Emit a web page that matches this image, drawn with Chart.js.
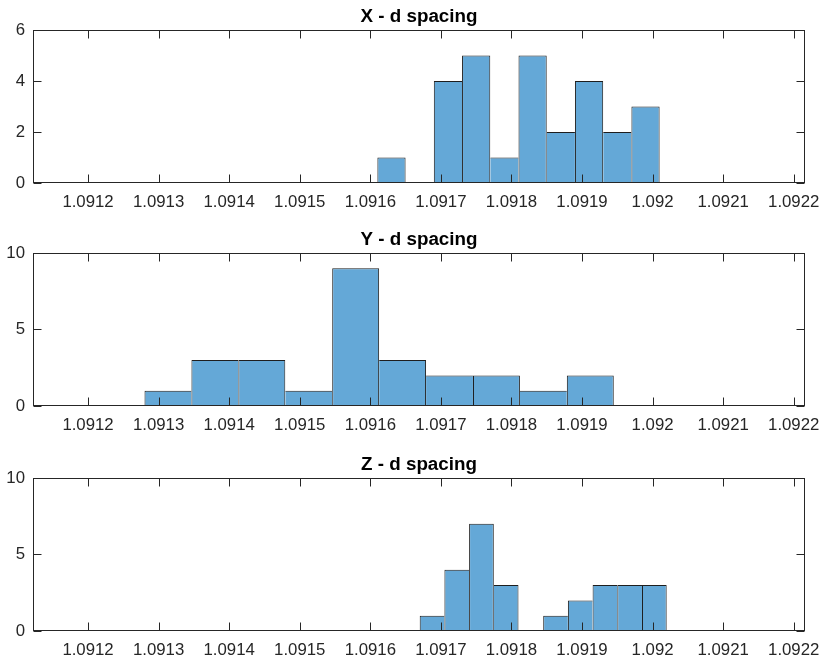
<!DOCTYPE html>
<html>
<head>
<meta charset="utf-8">
<title>d spacing histograms</title>
<script src="https://cdn.jsdelivr.net/npm/chart.js@4/dist/chart.umd.min.js"></script>
<style>
    html, body { margin: 0; padding: 0; background: #ffffff; }
    #wrap { position: relative; width: 820px; height: 661px; overflow: hidden; }
    #wrap canvas { position: absolute; left: 0; }
</style>
</head>
<body>
<div id="wrap">
    <canvas id="x-spacing" width="820" height="213" style="top:0px"></canvas>
    <canvas id="y-spacing" width="820" height="213" style="top:223px"></canvas>
    <canvas id="z-spacing" width="820" height="213" style="top:448px"></canvas>
</div>
<script>
'use strict';

//TICK LABELS SHARED BY ALL THREE PLOTS
let spacingTicks = ['1.0912', '1.0913', '1.0914', '1.0915', '1.0916', '1.0917',
                    '1.0918', '1.0919', '1.092', '1.0921', '1.0922'];
let spacingMin = 1.091122;
let spacingMax = 1.092216;

//X - BIN EDGES AND COUNTS
let xEdges = [1.09161, 1.09165, 1.09169, 1.09173, 1.09177, 1.09181,
              1.09185, 1.09189, 1.09193, 1.09197, 1.09201];
let xCounts = [1, 0, 4, 5, 1, 5, 2, 4, 2, 3];
let xCountTicks = [0, 2, 4, 6];

//Y - BIN EDGES AND COUNTS
let yEdges = [1.09128, 1.0913465, 1.091413, 1.0914795, 1.091546, 1.0916125,
              1.091679, 1.0917455, 1.091812, 1.0918785, 1.091945];
let yCounts = [1, 3, 3, 1, 9, 3, 2, 2, 1, 2];
let yCountTicks = [0, 5, 10];

//Z - BIN EDGES AND COUNTS
let zEdges = [1.09167, 1.091705, 1.09174, 1.091775, 1.09181, 1.091845,
              1.09188, 1.091915, 1.09195, 1.091985, 1.09202];
let zCounts = [1, 4, 7, 3, 0, 1, 2, 3, 3, 3];
let zCountTicks = [0, 5, 10];

let axisColor = '#262626';
let fontFamily = '"Liberation Sans", Arial, Helvetica, sans-serif';

// box round the axes with ticks pointing inwards on all four sides
let boxPlugin = {
    id: 'matlabBox',
    afterDraw: function (chart) {
        let ctx = chart.ctx;
        let a = chart.chartArea;
        let sx = chart.scales.x;
        let sy = chart.scales.y;
        let left = Math.round(a.left) + 0.5;
        let right = Math.round(a.right) - 0.5;
        let top = Math.round(a.top) + 0.5;
        let bottom = Math.round(a.bottom) - 0.5;
        let len = 8;

        ctx.save();
        ctx.strokeStyle = axisColor;
        ctx.lineWidth = 1;
        ctx.beginPath();
        sx.ticks.forEach(function (t) {
            let px = Math.round(sx.getPixelForValue(t.value)) + 0.5;
            ctx.moveTo(px, bottom);
            ctx.lineTo(px, bottom - len);
            ctx.moveTo(px, top);
            ctx.lineTo(px, top + len);
        });
        sy.ticks.forEach(function (t) {
            let py = Math.round(sy.getPixelForValue(t.value)) + 0.5;
            ctx.moveTo(left, py);
            ctx.lineTo(left + len, py);
            ctx.moveTo(right, py);
            ctx.lineTo(right - len, py);
        });
        ctx.stroke();
        ctx.strokeRect(left, top, right - left, bottom - top);
        ctx.restore();
    }
};

// shared edges are drawn once, by the taller of the two bars
function edgeWidths(c) {
    let d = c.dataset.data;
    let i = c.dataIndex;
    let h = d[i].y;
    let prev = i > 0 ? d[i - 1].y : 0;
    let next = i < d.length - 1 ? d[i + 1].y : 0;
    return {top: 1, bottom: 0, left: h >= prev ? 1 : 0, right: h > next ? 1 : 0};
}

function histogram(canvasId, title, edges, counts, countTicks) {
    let points = counts.map(function (n, i) {
        return {x: (edges[i] + edges[i + 1]) / 2, y: n};
    });

    new Chart(document.getElementById(canvasId), {
        type: 'bar',
        data: {
            datasets: [{
                data: points,
                backgroundColor: 'rgb(100, 168, 215)',
                borderColor: '#1e1e1e',
                borderWidth: edgeWidths,
                borderSkipped: false,
                inflateAmount: 0,
                barPercentage: 1,
                categoryPercentage: 1
            }]
        },
        options: {
            responsive: false,
            animation: false,
            events: [],
            layout: {padding: {left: 0, right: 15, top: 0, bottom: 0}},
            plugins: {
                legend: {display: false},
                tooltip: {enabled: false},
                title: {
                    display: true,
                    text: title,
                    fullSize: false,
                    color: '#000000',
                    font: {family: fontFamily, size: 18.8, weight: 'bold', lineHeight: 1.2},
                    padding: {top: 6, bottom: 1.4}
                }
            },
            scales: {
                x: {
                    type: 'linear',
                    min: spacingMin,
                    max: spacingMax,
                    offset: false,
                    grid: {display: false, drawTicks: false},
                    border: {display: false},
                    afterBuildTicks: function (s) {
                        s.ticks = spacingTicks.map(function (l) { return {value: parseFloat(l)}; });
                    },
                    afterFit: function (s) {
                        s.height = 30;
                        s.paddingLeft = 0;
                        s.paddingRight = 0;
                    },
                    ticks: {
                        autoSkip: false,
                        maxRotation: 0,
                        padding: 9,
                        color: axisColor,
                        font: {family: fontFamily, size: 16.8},
                        callback: function (v, i) { return spacingTicks[i]; }
                    }
                },
                y: {
                    min: countTicks[0],
                    max: countTicks[countTicks.length - 1],
                    grid: {display: false, drawTicks: false},
                    border: {display: false},
                    afterBuildTicks: function (s) {
                        s.ticks = countTicks.map(function (v) { return {value: v}; });
                    },
                    afterFit: function (s) {
                        s.width = 33;
                        s.paddingTop = 0;
                        s.paddingBottom = 0;
                    },
                    ticks: {
                        padding: 8,
                        color: axisColor,
                        font: {family: fontFamily, size: 16.8},
                        callback: function (v) { return String(v); }
                    }
                }
            }
        },
        plugins: [boxPlugin]
    });
}

histogram('x-spacing', 'X - d spacing', xEdges, xCounts, xCountTicks);
histogram('y-spacing', 'Y - d spacing', yEdges, yCounts, yCountTicks);
histogram('z-spacing', 'Z - d spacing', zEdges, zCounts, zCountTicks);
</script>
</body>
</html>
